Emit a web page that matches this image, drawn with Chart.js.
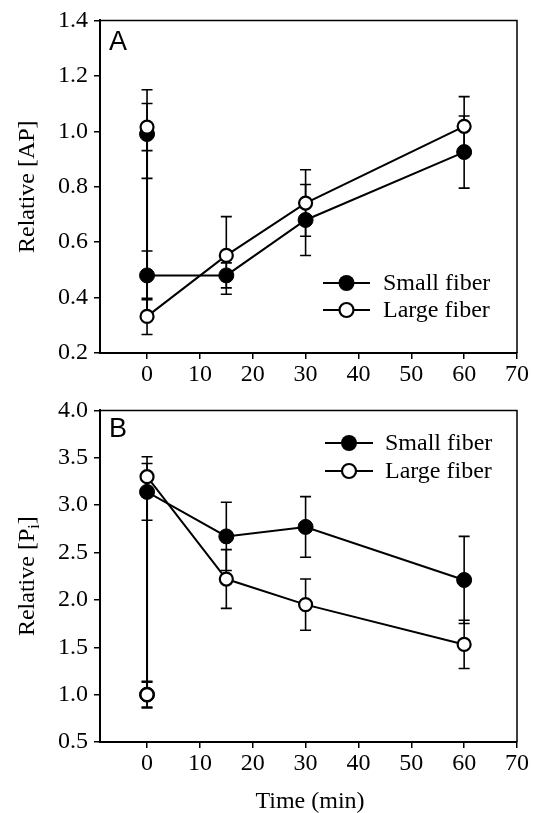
<!DOCTYPE html>
<html>
<head>
<meta charset="utf-8">
<script src="https://cdn.jsdelivr.net/npm/chart.js@4.4.1/dist/chart.umd.min.js"></script>
<style>
  body { margin: 0; background: #fff; }
  #wrap { position: relative; width: 536px; height: 813px; }
  canvas { position: absolute; left: 0; }
</style>
</head>
<body>
<div id="wrap">
  <canvas id="chartA" width="536" height="390" style="top:0"></canvas>
  <canvas id="chartB" width="536" height="423" style="top:390px"></canvas>
</div>
<script>
// ---- data ----
const seriesNames = ['Small fiber', 'Large fiber'];
const xTicks = [0, 10, 20, 30, 40, 50, 60, 70];
const yTicksA = [0.2, 0.4, 0.6, 0.8, 1.0, 1.2, 1.4];
const yTicksB = [0.5, 1.0, 1.5, 2.0, 2.5, 3.0, 3.5, 4.0];

// time points (two values at t = 0: before / after)
const timeMin = [0, 0, 15, 30, 60];

// Panel A: relative [AP]
const smallA    = [0.99, 0.48, 0.48, 0.68, 0.925];
const smallErrA = [0.16, 0.088, 0.045, 0.128, 0.13];
const largeA    = [1.015, 0.332, 0.552, 0.741, 1.018];
const largeErrA = [0.085, 0.065, 0.14, 0.12, 0.107];

// Panel B: relative [Pi]
const smallB    = [1.0, 3.14, 2.67, 2.77, 2.21];
const smallErrB = [0.13, 0.30, 0.36, 0.32, 0.46];
const largeB    = [1.0, 3.30, 2.22, 1.95, 1.53];
const largeErrB = [0.14, 0.21, 0.31, 0.27, 0.255];

const SERIF = '"Liberation Serif", "Times New Roman", serif';
const SANS = '"Liberation Sans", Arial, sans-serif';
const FONT_PX = 24;
Chart.defaults.color = '#000';

const toPoints = ys => ys.map((y, i) => ({ x: timeMin[i], y }));

function drawMarker(ctx, x, y, filled) {
    ctx.beginPath();
    if (filled) {
        ctx.arc(x, y, 8, 0, Math.PI * 2);
        ctx.fillStyle = '#000';
        ctx.fill();
    } else {
        ctx.arc(x, y, 7, 0, Math.PI * 2);
        ctx.fillStyle = '#fff';
        ctx.fill();
        ctx.lineWidth = 2.2;
        ctx.strokeStyle = '#000';
        ctx.stroke();
    }
}

// error bars, frame, panel letter, axis titles, legend
const decor = {
    id: 'decor',
    beforeDatasetsDraw(chart) {
        const ctx = chart.ctx, xs = chart.scales.x, ys = chart.scales.y;
        ctx.save();
        ctx.strokeStyle = '#000';
        ctx.lineWidth = 1.6;
        chart.data.datasets.forEach(ds => {
            ds.data.forEach((p, i) => {
                const e = ds.err[i];
                const px = xs.getPixelForValue(p.x);
                const top = ys.getPixelForValue(p.y + e);
                const bot = ys.getPixelForValue(p.y - e);
                ctx.beginPath();
                ctx.moveTo(px, top); ctx.lineTo(px, bot);
                ctx.moveTo(px - 5.5, top); ctx.lineTo(px + 5.5, top);
                ctx.moveTo(px - 5.5, bot); ctx.lineTo(px + 5.5, bot);
                ctx.stroke();
            });
        });
        ctx.restore();
    },
    afterDraw(chart, args, opts) {
        const ctx = chart.ctx, ca = chart.chartArea;
        ctx.save();
        // top + right frame
        ctx.strokeStyle = '#000';
        ctx.lineWidth = 1.5;
        ctx.beginPath();
        ctx.moveTo(ca.left, ca.top); ctx.lineTo(ca.right, ca.top); ctx.lineTo(ca.right, ca.bottom);
        ctx.stroke();

        // panel letter
        ctx.fillStyle = '#000';
        ctx.font = '27px ' + SANS;
        ctx.textAlign = 'left';
        ctx.textBaseline = 'alphabetic';
        ctx.fillText(opts.letter, 109, opts.letterY);

        // y title (with optional subscript)
        ctx.save();
        ctx.translate(34, (ca.top + ca.bottom) / 2);
        ctx.rotate(-Math.PI / 2);
        const big = FONT_PX + 'px ' + SERIF, small = '16px ' + SERIF;
        let total = 0;
        opts.yTitle.forEach(part => {
            ctx.font = part.sub ? small : big;
            total += ctx.measureText(part.t).width;
        });
        let cx = -total / 2;
        opts.yTitle.forEach(part => {
            ctx.font = part.sub ? small : big;
            ctx.fillText(part.t, cx, part.sub ? 5 : 0);
            cx += ctx.measureText(part.t).width;
        });
        ctx.restore();

        // x title
        if (opts.xTitle) {
            ctx.font = FONT_PX + 'px ' + SERIF;
            ctx.textAlign = 'center';
            ctx.fillText(opts.xTitle, 310, opts.xTitleY);
            ctx.textAlign = 'left';
        }

        // legend
        const lg = opts.legend;
        seriesNames.forEach((name, i) => {
            const y = lg.rows[i];
            ctx.strokeStyle = '#000';
            ctx.lineWidth = 2;
            ctx.beginPath();
            ctx.moveTo(lg.x0, y); ctx.lineTo(lg.x1, y);
            ctx.stroke();
            drawMarker(ctx, (lg.x0 + lg.x1) / 2, y, i === 0);
            ctx.fillStyle = '#000';
            ctx.font = FONT_PX + 'px ' + SERIF;
            ctx.fillText(name, lg.tx, y + 7);
        });
        ctx.restore();
    }
};

function makeChart(id, cfg) {
    const ds = (label, ys, err, filled, order) => ({
        label,
        data: toPoints(ys),
        err,
        order,
        showLine: true,
        borderColor: '#000',
        borderWidth: 2,
        tension: 0,
        pointRadius: filled ? 7.5 : 6.5,
        pointBorderWidth: filled ? 1 : 2.2,
        pointBackgroundColor: filled ? '#000' : '#fff',
        pointBorderColor: '#000'
    });

    return new Chart(document.getElementById(id), {
        type: 'scatter',
        data: {
            datasets: [
                ds(seriesNames[0], cfg.small, cfg.smallErr, true, 2),
                ds(seriesNames[1], cfg.large, cfg.largeErr, false, 1)
            ]
        },
        options: {
            responsive: false,
            animation: false,
            layout: { padding: { top: cfg.padTop, right: 19, left: 0, bottom: 0 } },
            scales: {
                x: {
                    type: 'linear',
                    min: -8.9,
                    max: 70,
                    afterBuildTicks: s => { s.ticks = xTicks.map(v => ({ value: v })); },
                    afterFit: s => { s.height = cfg.xHeight; },
                    grid: { drawOnChartArea: false, tickLength: 6, color: '#000', lineWidth: 1.5 },
                    border: { color: '#000', width: 2 },
                    ticks: { font: { family: SERIF, size: FONT_PX }, padding: 1, maxRotation: 0, color: '#000' }
                },
                y: {
                    type: 'linear',
                    min: cfg.yTicks[0],
                    max: cfg.yTicks[cfg.yTicks.length - 1],
                    afterBuildTicks: s => { s.ticks = cfg.yTicks.map(v => ({ value: v })); },
                    afterFit: s => { s.width = 100; },
                    grid: { drawOnChartArea: false, tickLength: 6, color: '#000', lineWidth: 1.5 },
                    border: { color: '#000', width: 2 },
                    ticks: { font: { family: SERIF, size: FONT_PX }, padding: 6, color: '#000',
                             callback: v => v.toFixed(1) }
                }
            },
            plugins: {
                legend: { display: false },
                tooltip: { enabled: false },
                decor: cfg.decor
            }
        },
        plugins: [decor]
    });
}

makeChart('chartA', {
    small: smallA, smallErr: smallErrA, large: largeA, largeErr: largeErrA,
    yTicks: yTicksA, padTop: 16, xHeight: 37,
    decor: {
        letter: 'A', letterY: 50,
        yTitle: [{ t: 'Relative [AP]' }],
        legend: { x0: 323, x1: 370, tx: 383, rows: [283, 310] }
    }
});

makeChart('chartB', {
    small: smallB, smallErr: smallErrB, large: largeB, largeErr: largeErrB,
    yTicks: yTicksB, padTop: 15, xHeight: 71,
    decor: {
        letter: 'B', letterY: 47,
        yTitle: [{ t: 'Relative [P' }, { t: 'i', sub: true }, { t: ']' }],
        xTitle: 'Time (min)', xTitleY: 418,
        legend: { x0: 325, x1: 373, tx: 385, rows: [53, 81] }
    }
});
</script>
</body>
</html>
